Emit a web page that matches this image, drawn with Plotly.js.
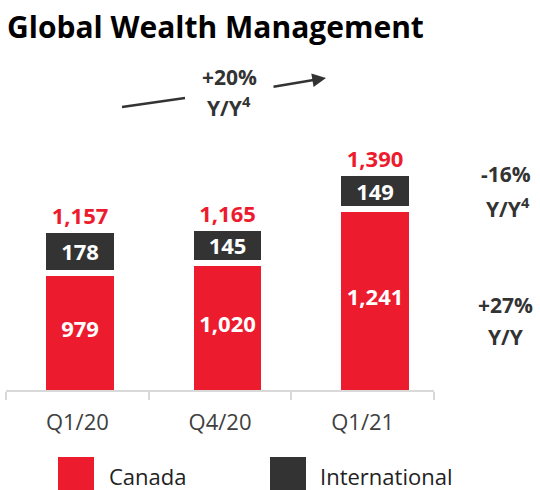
<!DOCTYPE html>
<html>
<head>
<meta charset="utf-8">
<script src="https://cdn.plot.ly/plotly-3.0.1.min.js"></script>
<style>html,body{margin:0;padding:0;background:#fff;}#chart{width:540px;height:490px;}</style>
</head>
<body>
<div id="chart"></div>
<script>
const categories = ['Q1/20', 'Q4/20', 'Q1/21'];
const canada = [979, 1020, 1241];
const international = [178, 145, 149];
const totals = [1157, 1165, 1390];
const seriesNames = ['Canada', 'International'];

const RED = '#ED1B2E';
const DARK = '#333333';
const FONT = 'Open Sans, Noto Sans, sans-serif';
const Y_RANGE = [500, 1700];

const fmt = v => v.toLocaleString('en-US');

const traces = [
  {
    // carries the category axis (ticks and labels); draws nothing itself
    type: 'scatter', mode: 'none', x: categories, y: totals, xaxis: 'x',
    showlegend: false, hoverinfo: 'skip'
  },
  {
    type: 'bar', name: seriesNames[0], x: categories, y: canada, xaxis: 'x2',
    marker: {color: RED, line: {color: '#ffffff', width: 6}},
    textposition: 'none',
    width: 0.5, showlegend: false, hoverinfo: 'skip'
  },
  {
    type: 'bar', name: seriesNames[1], x: categories, y: international, xaxis: 'x2',
    marker: {color: DARK, line: {color: '#ffffff', width: 6}},
    texttemplate: '%{y:,}', textposition: 'inside', insidetextanchor: 'middle',
    constraintext: 'none',
    textfont: {family: FONT, size: 22, color: '#ffffff', weight: 700},
    width: 0.5, showlegend: false, hoverinfo: 'skip'
  },
  {
    // Canada value labels, centred in the visible part of the truncated bar
    type: 'scatter', mode: 'text', x: categories, xaxis: 'x2',
    y: canada.map(v => (Y_RANGE[0] + v) / 2),
    text: canada.map(fmt), textposition: 'middle center', cliponaxis: false,
    textfont: {family: FONT, size: 22, color: '#ffffff', weight: 700},
    showlegend: false, hoverinfo: 'skip'
  },
  {
    type: 'scatter', mode: 'text', x: categories, y: totals, xaxis: 'x2',
    text: totals.map(fmt),
    textposition: 'top center', cliponaxis: false,
    textfont: {family: FONT, size: 22, color: RED, weight: 700},
    showlegend: false, hoverinfo: 'skip'
  }
];

// pixel -> paper helpers for the plot area (l=6, width=428, top=97, height=293)
const px = v => (v - 6) / 428;
const py = v => (390 - v) / 293;

const annFont = {family: FONT, size: 21, color: DARK, weight: 700};
const legFont = {family: FONT, size: 22, color: '#222222'};
const layout = {
  width: 540, height: 490,
  margin: {l: 6, r: 106, t: 97, b: 100},
  paper_bgcolor: '#ffffff', plot_bgcolor: '#ffffff',
  barmode: 'stack',
  title: {
    text: 'Global Wealth Management',
    font: {family: FONT, size: 30, color: '#000000', weight: 700},
    x: 7 / 540, xanchor: 'left', xref: 'container',
    y: 1 - 27 / 490, yanchor: 'middle', yref: 'container'
  },
  xaxis: {
    type: 'category', range: [-0.5, 2.5],
    showline: true, linecolor: '#d9d9d9', linewidth: 2,
    ticks: 'outside', tickson: 'boundaries', ticklen: 8, tickwidth: 2, tickcolor: '#d9d9d9',
    ticklabelstandoff: 12,
    tickfont: {family: FONT, size: 22, color: '#404040'},
    showgrid: false, zeroline: false, fixedrange: true
  },
  xaxis2: {
    type: 'category', overlaying: 'x', range: [-0.502, 2.400],
    visible: false, showgrid: false, zeroline: false, fixedrange: true
  },
  yaxis: {range: Y_RANGE, visible: false, showgrid: false, zeroline: false, fixedrange: true},
  showlegend: false,
  shapes: [
    {type: 'line', xref: 'paper', yref: 'paper', x0: px(122), y0: py(107), x1: px(185), y1: py(98),
     line: {color: DARK, width: 2.5}},
    {type: 'rect', xref: 'paper', yref: 'paper', x0: px(58), x1: px(94), y0: py(457), y1: py(493),
     fillcolor: RED, line: {width: 0}},
    {type: 'rect', xref: 'paper', yref: 'paper', x0: px(270), x1: px(306), y0: py(457), y1: py(493),
     fillcolor: DARK, line: {width: 0}}
  ],
  annotations: [
    {xref: 'paper', yref: 'paper', x: px(326), y: py(78), ax: -54, ay: 9, axref: 'pixel', ayref: 'pixel',
     text: '', showarrow: true, arrowhead: 2, arrowsize: 1.1, arrowwidth: 2.5, arrowcolor: DARK},
    {xref: 'paper', yref: 'paper', x: px(230), y: py(77), text: '+20%', showarrow: false,
     xanchor: 'center', yanchor: 'middle', font: annFont},
    {xref: 'paper', yref: 'paper', x: px(229), y: py(107), text: 'Y/Y<sup>4</sup>', showarrow: false,
     xanchor: 'center', yanchor: 'middle', font: annFont},
    {xref: 'paper', yref: 'paper', x: px(506), y: py(174), text: '-16%', showarrow: false,
     xanchor: 'center', yanchor: 'middle', font: annFont},
    {xref: 'paper', yref: 'paper', x: px(508), y: py(207), text: 'Y/Y<sup>4</sup>', showarrow: false,
     xanchor: 'center', yanchor: 'middle', font: annFont},
    {xref: 'paper', yref: 'paper', x: px(505), y: py(305), text: '+27%', showarrow: false,
     xanchor: 'center', yanchor: 'middle', font: annFont},
    {xref: 'paper', yref: 'paper', x: px(506), y: py(337), text: 'Y/Y', showarrow: false,
     xanchor: 'center', yanchor: 'middle', font: annFont},
    {xref: 'paper', yref: 'paper', x: px(107), y: py(476), text: seriesNames[0], showarrow: false,
     xanchor: 'left', yanchor: 'middle', font: legFont},
    {xref: 'paper', yref: 'paper', x: px(318), y: py(476), text: seriesNames[1], showarrow: false,
     xanchor: 'left', yanchor: 'middle', font: legFont}
  ]
};

Plotly.newPlot('chart', traces, layout, {staticPlot: true, displayModeBar: false});
</script>
</body>
</html>
